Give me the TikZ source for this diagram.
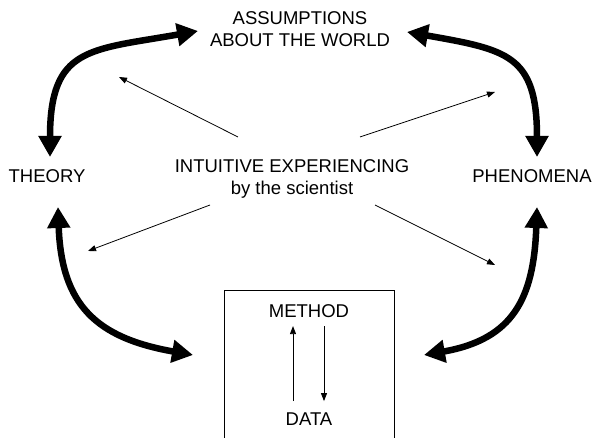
\documentclass[tikz,border=0pt]{standalone}
\usepackage{fontspec}
\setmainfont{Liberation Sans}
\usetikzlibrary{calc,positioning,arrows.meta}

\begin{document}
\begin{tikzpicture}[x=1pt, y=1pt, lbl/.style={align=center, font=\fontsize{18.5}{22}\selectfont},
  bigarr/.style={line width=6.5pt, {Triangle[length=21pt,width=22pt]}-{Triangle[length=21pt,width=22pt]}},
  ray/.style={line width=0.8pt, -{Triangle[length=8pt,width=6pt]}}]
\tikzstyle{inbox}=[line width=0.8pt, -{Triangle[length=8pt,width=6pt]}]
\useasboundingbox (0,0) rectangle (597,438);
\node[lbl] (assum) at (300,409) {ASSUMPTIONS\\ABOUT THE WORLD};
\node[lbl] (theory) at (47,262) {THEORY};
\node[lbl] (phen) at (532,262) {PHENOMENA};
\node[lbl] (intuit) at (292,259) {INTUITIVE EXPERIENCING\\by the scientist};
\node[draw, line width=0.8pt, minimum width=170pt, minimum height=170pt] (box) at (309,63) {};
\node[lbl] (method) at (309,127) {METHOD};
\node[lbl] (data) at (309,19) {DATA};
% ends of the rays and of the big arrows
\foreach \n/\x/\y in {r1s/238/301, r1e/119/361, r2s/360/301, r2e/495/346,
  r3s/210/233, r3e/88/187, r4s/375/233, r4e/495/173,
  t1a/198/407, t1b/50/281, t2a/407/406, t2b/537/281,
  t3a/58/231, t3b/193/83, t4a/537/231, t4b/424/83}{\coordinate (\n) at (\x,\y);}
\foreach \i/\j in {r1s/r1e,r2s/r2e,r3s/r3e,r4s/r4e}{\draw[ray] (\i) -- (\j);}
\draw[bigarr] (t1a) to[out=190,in=90,looseness=1.45] (t1b);
\draw[bigarr] (t2a) to[out=-10,in=90,looseness=1.45] (t2b);
\draw[bigarr] (t3a) to[out=-88,in=170,looseness=1.25] (t3b);
\draw[bigarr] (t4a) to[out=-92,in=10,looseness=1.25] (t4b);
\draw[inbox] ([xshift=-16pt,yshift=8pt]data.north) -- ([xshift=-16pt,yshift=-5pt]method.south);
\draw[inbox] ([xshift=15pt,yshift=-5pt]method.south) -- ([xshift=15pt,yshift=8pt]data.north);
\end{tikzpicture}
\end{document}
